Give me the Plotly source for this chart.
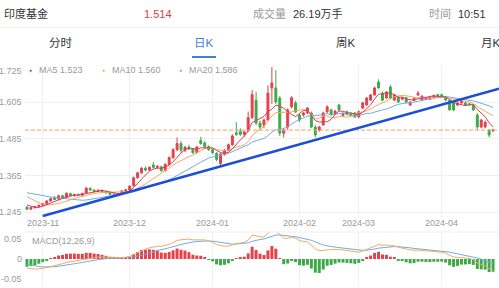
import numpy as np
import pandas as pd
import plotly.graph_objects as go

W, H = 499, 288

# ---------------- data ----------------
holidays = {"2024-01-01", "2024-02-09", "2024-02-12", "2024-02-13", "2024-02-14",
            "2024-02-15", "2024-02-16", "2024-04-04", "2024-04-05"}
dates = [d.strftime("%Y-%m-%d") for d in pd.bdate_range("2023-10-26", "2024-04-22")
         if d.strftime("%Y-%m-%d") not in holidays]

opens = [1.262, 1.255, 1.260, 1.264, 1.268, 1.273, 1.282, 1.291, 1.288, 1.299,
         1.294, 1.306, 1.300, 1.303, 1.301, 1.308, 1.323, 1.318, 1.313, 1.317,
         1.312, 1.309, 1.304, 1.302, 1.305, 1.315, 1.318, 1.332, 1.358, 1.374,
         1.389, 1.383, 1.400, 1.392, 1.394, 1.381, 1.402, 1.424, 1.450, 1.470,
         1.448, 1.458, 1.452, 1.440, 1.480, 1.472, 1.460, 1.450, 1.438, 1.405,
         1.435, 1.448, 1.466, 1.505, 1.510, 1.500, 1.512, 1.555, 1.612, 1.537,
         1.530, 1.547, 1.652, 1.652, 1.619, 1.504, 1.524, 1.590, 1.603, 1.563,
         1.563, 1.570, 1.570, 1.524, 1.514, 1.531, 1.574, 1.580, 1.568, 1.596,
         1.562, 1.574, 1.568, 1.570, 1.557, 1.586, 1.596, 1.612, 1.629, 1.671,
         1.635, 1.619, 1.655, 1.612, 1.622, 1.615, 1.620, 1.596, 1.612, 1.629,
         1.612, 1.615, 1.615, 1.622, 1.630, 1.630, 1.622, 1.612, 1.605, 1.596,
         1.603, 1.603, 1.600, 1.596, 1.563, 1.524, 1.524, 1.514, 1.512]
highs = [1.265, 1.262, 1.266, 1.270, 1.276, 1.284, 1.293, 1.298, 1.302, 1.303,
         1.310, 1.309, 1.306, 1.307, 1.309, 1.328, 1.327, 1.320, 1.320, 1.319,
         1.316, 1.311, 1.308, 1.307, 1.318, 1.322, 1.334, 1.362, 1.378, 1.393,
         1.395, 1.395, 1.410, 1.400, 1.397, 1.405, 1.428, 1.455, 1.490, 1.478,
         1.462, 1.466, 1.455, 1.462, 1.492, 1.478, 1.464, 1.456, 1.442, 1.440,
         1.452, 1.470, 1.500, 1.540, 1.520, 1.512, 1.575, 1.645, 1.640, 1.545,
         1.552, 1.660, 1.720, 1.710, 1.625, 1.520, 1.585, 1.625, 1.610, 1.568,
         1.574, 1.590, 1.575, 1.530, 1.528, 1.574, 1.595, 1.584, 1.580, 1.600,
         1.572, 1.578, 1.572, 1.573, 1.578, 1.606, 1.622, 1.632, 1.656, 1.680,
         1.640, 1.642, 1.662, 1.632, 1.626, 1.622, 1.623, 1.608, 1.621, 1.642,
         1.628, 1.623, 1.625, 1.630, 1.633, 1.633, 1.625, 1.615, 1.608, 1.606,
         1.613, 1.606, 1.603, 1.599, 1.570, 1.550, 1.545, 1.517, 1.518]
lows = [1.252, 1.253, 1.257, 1.261, 1.265, 1.271, 1.280, 1.285, 1.286, 1.291,
        1.292, 1.298, 1.296, 1.299, 1.299, 1.306, 1.315, 1.310, 1.311, 1.309,
        1.306, 1.301, 1.299, 1.300, 1.303, 1.311, 1.316, 1.330, 1.355, 1.371,
        1.379, 1.381, 1.388, 1.386, 1.378, 1.379, 1.400, 1.420, 1.445, 1.440,
        1.442, 1.448, 1.436, 1.438, 1.466, 1.455, 1.446, 1.435, 1.412, 1.395,
        1.430, 1.445, 1.463, 1.495, 1.495, 1.492, 1.508, 1.550, 1.530, 1.515,
        1.520, 1.545, 1.600, 1.600, 1.495, 1.490, 1.515, 1.585, 1.570, 1.540,
        1.558, 1.566, 1.520, 1.490, 1.508, 1.528, 1.570, 1.560, 1.564, 1.576,
        1.558, 1.562, 1.558, 1.554, 1.554, 1.582, 1.594, 1.610, 1.626, 1.650,
        1.608, 1.616, 1.616, 1.609, 1.603, 1.612, 1.603, 1.593, 1.609, 1.626,
        1.609, 1.612, 1.612, 1.619, 1.622, 1.623, 1.608, 1.578, 1.576, 1.593,
        1.600, 1.593, 1.594, 1.576, 1.515, 1.520, 1.520, 1.490, 1.508]
closes = [1.255, 1.261, 1.264, 1.268, 1.273, 1.282, 1.290, 1.287, 1.299, 1.294,
          1.307, 1.300, 1.303, 1.301, 1.307, 1.324, 1.318, 1.313, 1.317, 1.312,
          1.309, 1.304, 1.302, 1.305, 1.315, 1.318, 1.330, 1.358, 1.374, 1.389,
          1.383, 1.392, 1.392, 1.395, 1.381, 1.402, 1.424, 1.450, 1.470, 1.448,
          1.458, 1.452, 1.440, 1.459, 1.470, 1.460, 1.450, 1.440, 1.418, 1.435,
          1.448, 1.466, 1.495, 1.500, 1.500, 1.508, 1.555, 1.630, 1.537, 1.524,
          1.547, 1.635, 1.668, 1.606, 1.504, 1.514, 1.580, 1.620, 1.573, 1.547,
          1.570, 1.586, 1.524, 1.498, 1.524, 1.570, 1.590, 1.565, 1.576, 1.580,
          1.568, 1.565, 1.562, 1.557, 1.574, 1.603, 1.619, 1.629, 1.652, 1.652,
          1.612, 1.638, 1.619, 1.629, 1.606, 1.620, 1.606, 1.606, 1.618, 1.635,
          1.625, 1.620, 1.622, 1.627, 1.625, 1.626, 1.612, 1.580, 1.580, 1.603,
          1.610, 1.596, 1.597, 1.580, 1.524, 1.547, 1.540, 1.498, 1.514]

# closes before the visible window (needed for the MA / MACD warm-up)
prior_closes = [1.342, 1.338, 1.341, 1.345, 1.343, 1.340, 1.337, 1.339, 1.342, 1.344,
                1.341, 1.338, 1.336, 1.339, 1.341, 1.338, 1.335, 1.333, 1.336, 1.334,
                1.330, 1.328, 1.331, 1.329, 1.327, 1.325,
                1.315, 1.318, 1.322, 1.326, 1.320, 1.318, 1.322, 1.325, 1.328, 1.326,
                1.335, 1.330, 1.325, 1.318, 1.307,
                1.285, 1.278, 1.270, 1.257]

y_ticks = [1.245, 1.365, 1.485, 1.605, 1.725]
macd_ticks = [0.05, 0, -0.05]
macd_tick_text = ["0.05", "0", "-0.05"]
month_labels = ["2023-11", "2023-12", "2024-01", "2024-02", "2024-03", "2024-04"]
last_price = 1.514
legend_items = [("MA5", "1.523"), ("MA10", "1.560"), ("MA20", "1.586")]
trend_start = (4, 1.2329)
trend_end = (119.5, 1.6498)

# ---------------- indicators ----------------
npre = len(prior_closes)
s_all = pd.Series(prior_closes + closes, dtype=float)
ma5 = s_all.rolling(5).mean().to_numpy()[npre:]
ma10 = s_all.rolling(10).mean().to_numpy()[npre:]
ma20 = s_all.rolling(20).mean().to_numpy()[npre:]
ema12 = s_all.ewm(span=12, adjust=False).mean()
ema26 = s_all.ewm(span=26, adjust=False).mean()
dif_all = ema12 - ema26
dea_all = dif_all.ewm(span=9, adjust=False).mean()
dif = dif_all.to_numpy()[npre:]
dea = dea_all.to_numpy()[npre:]
hist = 2 * (dif - dea)

# ---------------- styling ----------------
RED = "#e5414b"
GREEN = "#3fa94a"
C_MA5 = "#da3a5c"
C_MA10 = "#f2aa62"
C_MA20 = "#6eaee6"
GRID = "#f0f0f0"
GRAY = "#9a9a9a"
DARK = "#333333"
BLUE_TAB = "#3f7fe0"
FONT = "Liberation Sans, Noto Sans CJK SC, sans-serif"


def px(x):
    return x / W


def py(y):
    return 1 - y / H


month_starts = []
for m in month_labels:
    for d in dates:
        if d.startswith(m):
            month_starts.append(d)
            break

fig = go.Figure()
fig.add_trace(go.Candlestick(
    x=dates, open=opens, high=highs, low=lows, close=closes,
    increasing=dict(line=dict(color=RED, width=1), fillcolor=RED),
    decreasing=dict(line=dict(color=GREEN, width=1), fillcolor=GREEN),
    whiskerwidth=0, showlegend=False, hoverinfo="skip", xaxis="x", yaxis="y"))
for arr, col in [(ma20, C_MA20), (ma10, C_MA10), (ma5, C_MA5)]:
    fig.add_trace(go.Scatter(x=dates, y=arr, mode="lines", line=dict(color=col, width=1),
                             showlegend=False, hoverinfo="skip", xaxis="x", yaxis="y"))

fig.add_trace(go.Bar(x=dates, y=hist, marker_color=[RED if h >= 0 else GREEN for h in hist],
                     marker_line_width=0, width=0.75, showlegend=False, hoverinfo="skip",
                     xaxis="x2", yaxis="y2"))
fig.add_trace(go.Scatter(x=dates, y=dea, mode="lines", line=dict(color=C_MA20, width=1),
                         showlegend=False, hoverinfo="skip", xaxis="x2", yaxis="y2"))
fig.add_trace(go.Scatter(x=dates, y=dif, mode="lines", line=dict(color=C_MA10, width=1),
                         showlegend=False, hoverinfo="skip", xaxis="x2", yaxis="y2"))

xrange = [-0.5, len(dates) + 0.5]
common_x = dict(type="category", range=xrange, domain=[px(25), 1], tickvals=month_starts,
                showticklabels=False, showgrid=True, gridcolor=GRID, gridwidth=1,
                zeroline=False, showline=False, ticks="", fixedrange=True)

shapes = [
    dict(type="line", xref="paper", yref="paper", x0=0, x1=1, y0=py(27.5), y1=py(27.5),
         line=dict(color="#eeeeee", width=1)),
    dict(type="rect", xref="paper", yref="paper", x0=px(192), x1=px(216), y0=py(58), y1=py(56),
         fillcolor=BLUE_TAB, line=dict(width=0)),
    dict(type="line", xref="paper", yref="paper", x0=px(25), x1=1, y0=py(232), y1=py(232),
         line=dict(color="#eeeeee", width=1)),
    dict(type="line", xref="x domain", yref="y", x0=0, x1=1, y0=last_price, y1=last_price,
         line=dict(color="#eda55a", width=1, dash="4px,2px")),
    dict(type="line", xref="x", yref="y", x0=trend_start[0], y0=trend_start[1],
         x1=trend_end[0], y1=trend_end[1], line=dict(color="#1d4fd6", width=2.5)),
]

ann = []


def text(x, y, t, color=DARK, size=11, anchor="left", yshift=0, xref="paper", yref="paper"):
    ann.append(dict(x=x, y=y, xref=xref, yref=yref, text=t, showarrow=False,
                    xanchor=anchor, yanchor="middle", yshift=yshift,
                    font=dict(family=FONT, size=size, color=color)))


# header
text(px(2), py(13.5), "印度基金", DARK, 11)
text(px(142), py(13.5), "1.514", "#d9404a", 11)
text(px(251), py(13.5), "成交量", GRAY, 11)
text(px(291), py(13.5), "26.19万手", DARK, 11)
text(px(427), py(13.5), "时间", GRAY, 11)
text(px(456), py(13.5), "10:51", DARK, 11)
# tabs
text(px(61), py(43.5), "分时", DARK, 11.5, "center")
text(px(204), py(43.5), "日K", BLUE_TAB, 11.5, "center")
text(px(346), py(43.5), "周K", DARK, 11.5, "center")
text(px(491), py(43.5), "月K", DARK, 11.5, "center")

# legend
lx = [30.5, 103.5, 180.5]
for (name, val), col, x0 in zip(legend_items, [C_MA5, C_MA10, C_MA20], lx):
    text(px(x0), py(70.5), "●", col, 5, "center")
    text(px(x0 + 6.5), py(70.5), f"{name} {val}", GRAY, 9)

# y labels main
for v in y_ticks:
    text(px(23.5), v, f"{v:.3f}", GRAY, 9, "right", yshift=(-5 if v == y_ticks[-1] else 0),
         yref="y")
# y labels macd (top / bottom labels drawn inside the panel)
for v, t in zip(macd_ticks, macd_tick_text):
    text(px(23.5), v, t, GRAY, 9, "right", yref="y2",
         yshift=(-7 if v > 0 else (7 if v < 0 else 0)))
# x labels
for d, t in zip(month_starts, month_labels):
    text(d, py(223), t, GRAY, 9, "center", xref="x")
text(px(30), py(240.5), "MACD(12,26,9)", GRAY, 9)

fig.update_layout(
    width=W, height=H, margin=dict(l=0, r=0, t=0, b=0),
    paper_bgcolor="white", plot_bgcolor="white",
    font=dict(family=FONT),
    xaxis=dict(**common_x, anchor="y", rangeslider=dict(visible=False)),
    xaxis2=dict(**common_x, anchor="y2"),
    yaxis=dict(domain=[py(218), py(65)], range=[1.2263, 1.727], tickvals=y_ticks,
               showticklabels=False, showgrid=True, gridcolor=GRID, zeroline=False,
               fixedrange=True),
    yaxis2=dict(domain=[py(286), py(232)], range=[-0.05, 0.05], showticklabels=False,
                showgrid=False, zeroline=False, fixedrange=True),
    bargap=0.25,
    shapes=shapes, annotations=ann, hovermode=False,
)
fig.write_html("out.html")
